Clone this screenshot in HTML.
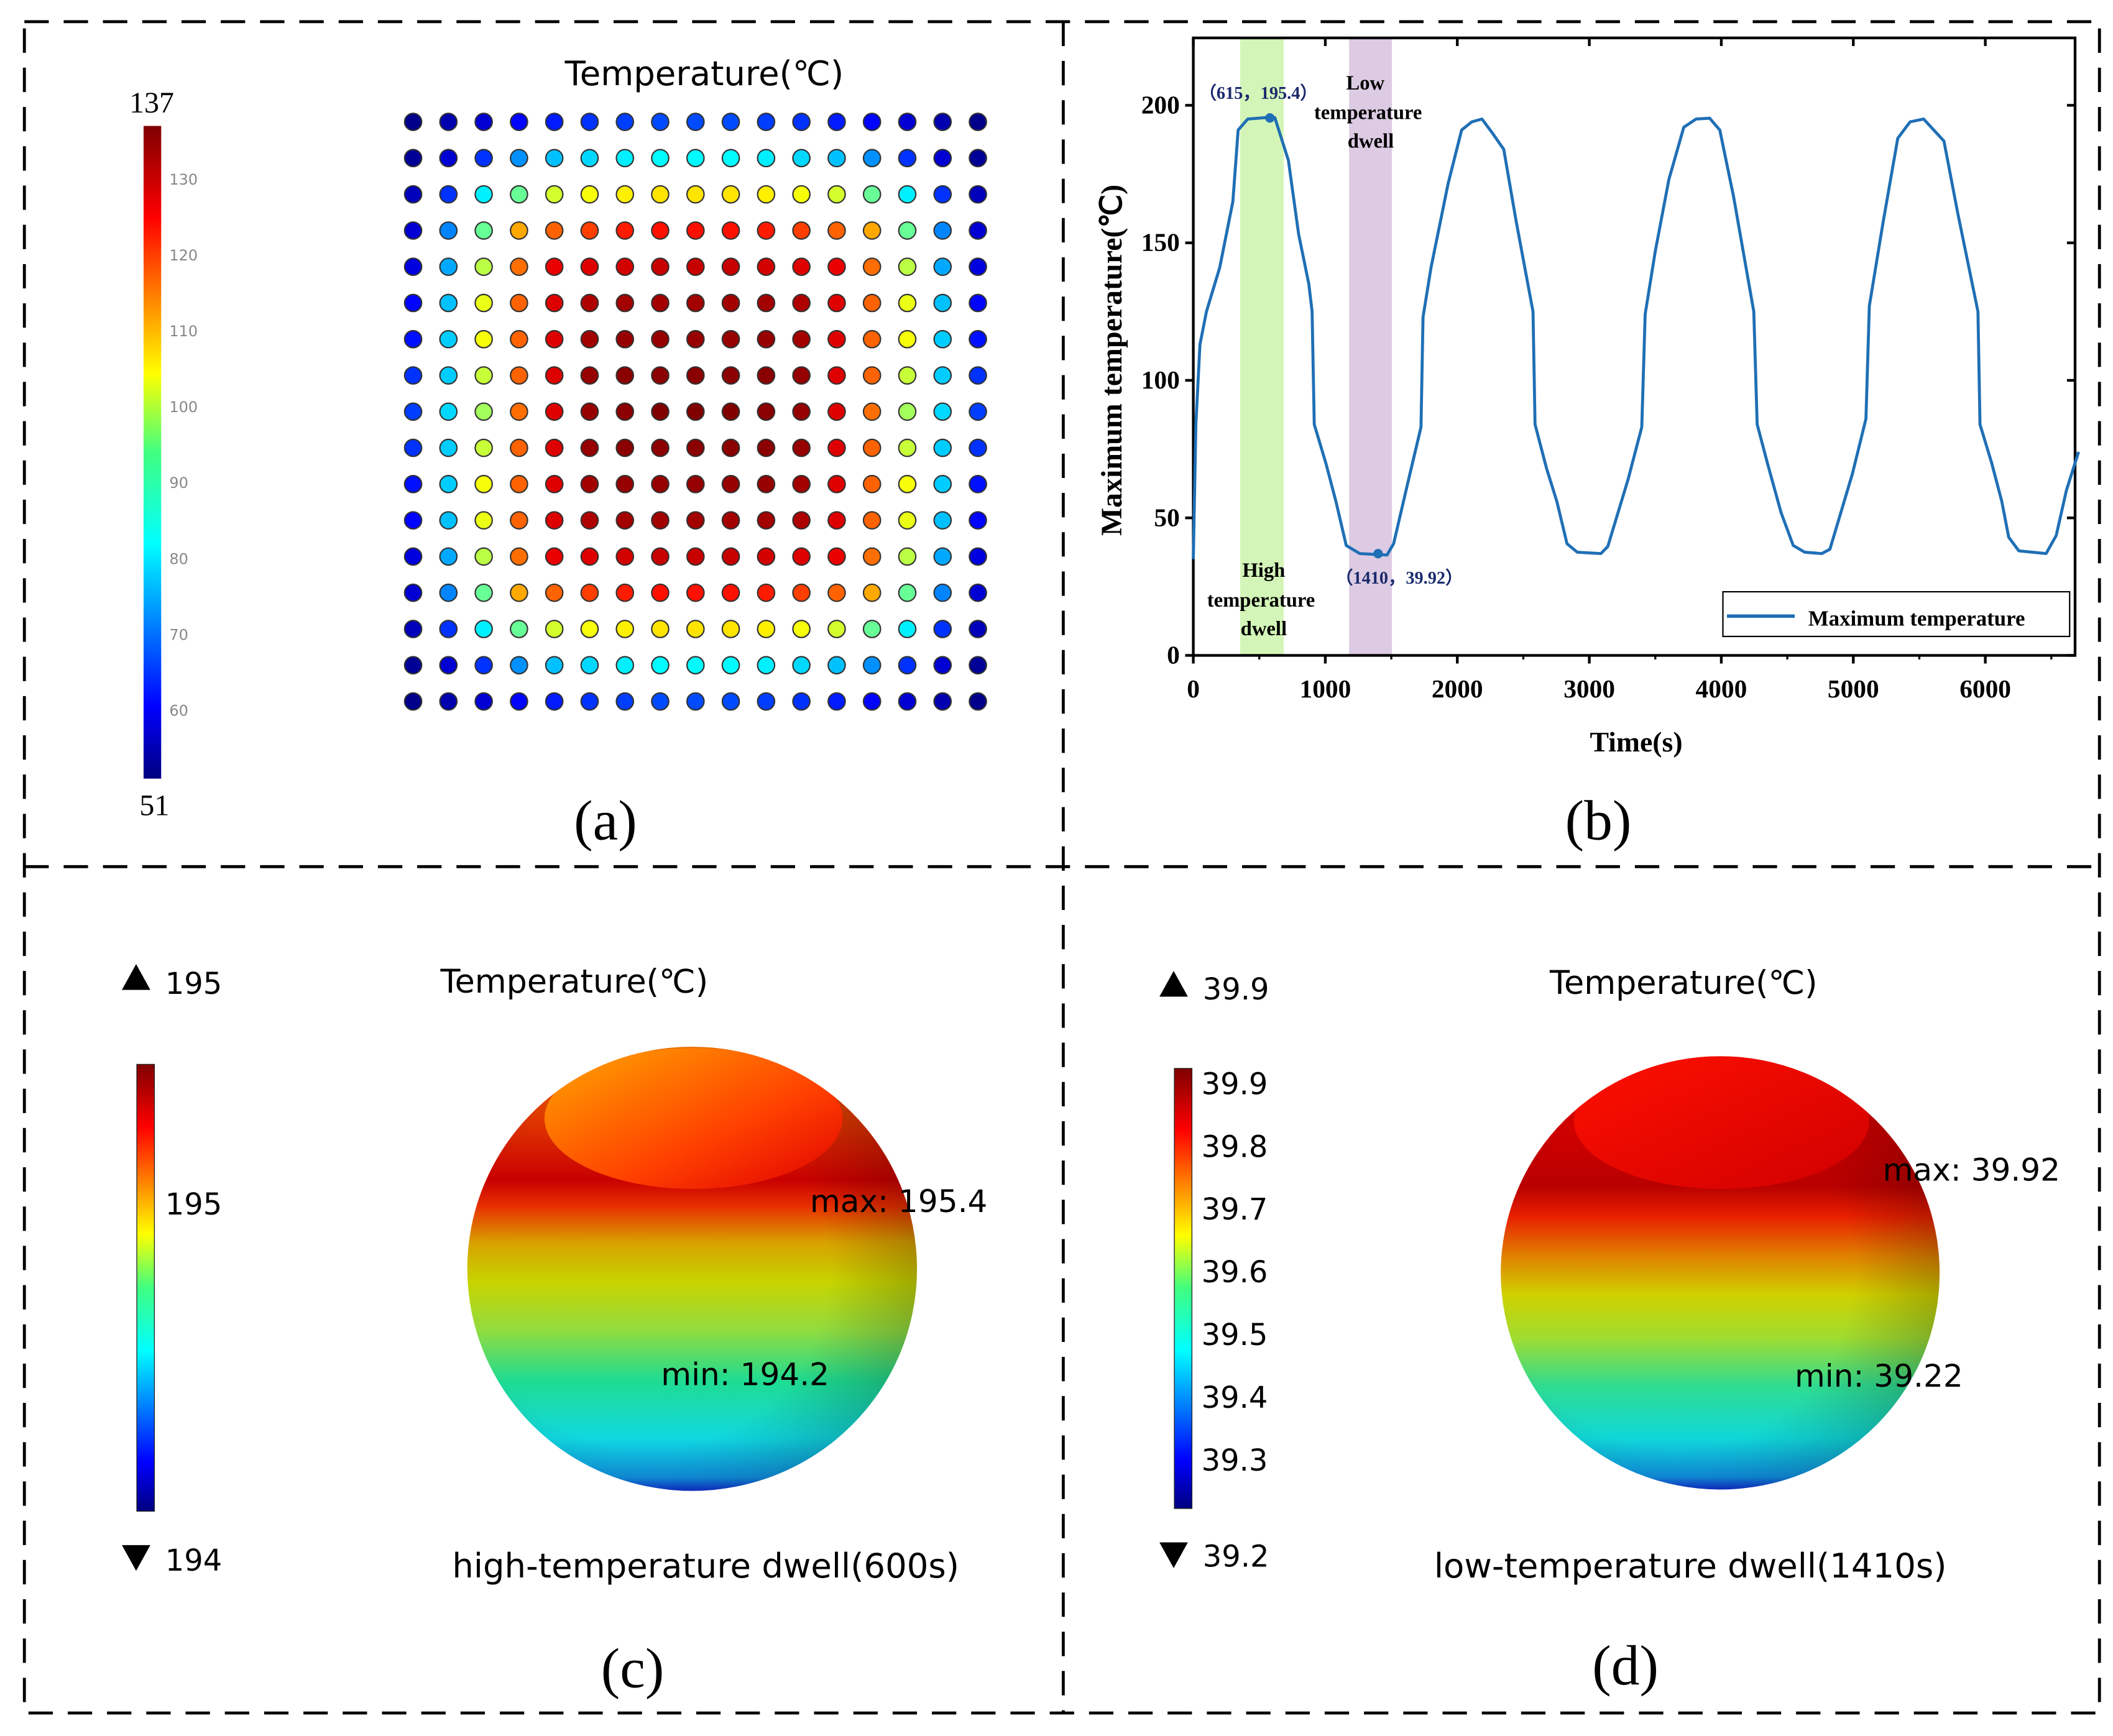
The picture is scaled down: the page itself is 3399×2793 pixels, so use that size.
<!DOCTYPE html>
<html><head><meta charset="utf-8"><style>
html,body{margin:0;padding:0;background:#fff;}
svg{display:block;}
.sans{font-family:"DejaVu Sans","Liberation Sans",sans-serif;}
.serif{font-family:"Liberation Serif",serif;}
</style></head><body>
<svg id="fig" width="3399" height="2793" viewBox="0 0 1560 1282" preserveAspectRatio="none" xmlns="http://www.w3.org/2000/svg">
<defs>
<linearGradient id="jetV" x1="0" y1="1" x2="0" y2="0">
<stop offset="0" stop-color="#00007f"/><stop offset="0.11" stop-color="#0000ff"/><stop offset="0.36" stop-color="#00ffff"/><stop offset="0.5" stop-color="#40ff80"/><stop offset="0.62" stop-color="#ffff00"/><stop offset="0.86" stop-color="#ff0000"/><stop offset="1" stop-color="#7f0000"/>
</linearGradient>
<linearGradient id="sphC" x1="0" y1="0" x2="0" y2="1">
<stop offset="0" stop-color="#ff7a00"/><stop offset="0.3" stop-color="#c80000"/><stop offset="0.36" stop-color="#e83000"/><stop offset="0.44" stop-color="#d8a000"/><stop offset="0.53" stop-color="#c8d400"/><stop offset="0.64" stop-color="#90dc40"/><stop offset="0.75" stop-color="#20dc90"/><stop offset="0.88" stop-color="#10d8e0"/><stop offset="0.97" stop-color="#1090e0"/><stop offset="1" stop-color="#1030d0"/>
</linearGradient>
<linearGradient id="sphD" x1="0" y1="0" x2="0" y2="1">
<stop offset="0" stop-color="#f00000"/><stop offset="0.3" stop-color="#b80000"/><stop offset="0.37" stop-color="#e82000"/><stop offset="0.46" stop-color="#e08000"/><stop offset="0.55" stop-color="#d0d000"/><stop offset="0.65" stop-color="#a0dc30"/><stop offset="0.76" stop-color="#30dc90"/><stop offset="0.88" stop-color="#10d8d8"/><stop offset="0.97" stop-color="#1090e0"/><stop offset="1" stop-color="#1030d0"/>
</linearGradient>
<radialGradient id="shade" cx="0.4" cy="0.5" r="0.62">
<stop offset="0.65" stop-color="#000" stop-opacity="0"/><stop offset="1" stop-color="#000" stop-opacity="0.22"/>
</radialGradient>
<linearGradient id="capC" x1="0" y1="0" x2="1" y2="1">
<stop offset="0" stop-color="#ffa800"/><stop offset="0.6" stop-color="#ff4000"/><stop offset="1" stop-color="#e00000"/>
</linearGradient>
<linearGradient id="capD" x1="0" y1="0" x2="1" y2="1">
<stop offset="0" stop-color="#ff1000"/><stop offset="1" stop-color="#d00000"/>
</linearGradient>
<clipPath id="clipC"><ellipse cx="511" cy="937" rx="166" ry="164"/></clipPath>
<clipPath id="clipD"><ellipse cx="1270" cy="940" rx="162" ry="160"/></clipPath>
</defs>

<g fill="none" stroke="#000" stroke-width="2.2" stroke-dasharray="18 11">
<rect x="18" y="16" width="1532" height="1249"/>
<line x1="785" y1="16" x2="785" y2="1265"/>
<line x1="18" y1="640" x2="1550" y2="640"/>
</g>

<!-- Panel a -->
<g>
<text class="sans" x="520" y="63" font-size="25" text-anchor="middle">Temperature(℃)</text>
<rect x="106" y="93" width="13" height="482" fill="url(#jetV)"/>
<text class="serif" x="112" y="83" font-size="22" text-anchor="middle">137</text>
<text class="serif" x="114" y="602" font-size="22" text-anchor="middle">51</text>
<g id="cbTicksA" fill="#888" font-size="11" class="sans"></g>
<g id="dots"></g>
<text class="serif" x="447" y="620" font-size="42" text-anchor="middle">(a)</text>
</g>

<!-- Panel b -->
<g>
<g id="chart"></g>
<text class="serif" x="1180" y="620" font-size="42" text-anchor="middle">(b)</text>
</g>

<!-- Panel c -->
<g>
<text class="sans" x="424" y="733" font-size="24" text-anchor="middle">Temperature(℃)</text>
<path d="M90,731 L111,731 L100.5,712 Z" fill="#000"/>
<text class="sans" x="122" y="734" font-size="22">195</text>
<rect x="101" y="786" width="13" height="330" fill="url(#jetV)" stroke="#222" stroke-width="0.6"/>
<text class="sans" x="122" y="897" font-size="22">195</text>
<path d="M90,1141 L111,1141 L100.5,1160 Z" fill="#000"/>
<text class="sans" x="122" y="1160" font-size="22">194</text>
<g>
<ellipse cx="511" cy="937" rx="166" ry="164" fill="url(#sphC)"/>
<ellipse cx="511" cy="937" rx="166" ry="164" fill="url(#shade)"/>
<ellipse cx="512" cy="826" rx="110" ry="52" fill="url(#capC)" clip-path="url(#clipC)"/>
</g>
<text class="sans" x="598" y="895" font-size="23">max: 195.4</text>
<text class="sans" x="488" y="1023" font-size="23">min: 194.2</text>
<text class="sans" x="521" y="1165" font-size="25" text-anchor="middle">high-temperature dwell(600s)</text>
<text class="serif" x="467" y="1246" font-size="42" text-anchor="middle">(c)</text>
</g>

<!-- Panel d -->
<g>
<text class="sans" x="1243" y="734" font-size="24" text-anchor="middle">Temperature(℃)</text>
<path d="M856,736 L877,736 L866.5,717 Z" fill="#000"/>
<text class="sans" x="888" y="738" font-size="22">39.9</text>
<rect x="867" y="789" width="13" height="325" fill="url(#jetV)" stroke="#222" stroke-width="0.6"/>
<g id="cbTicksD" class="sans" font-size="22"></g>
<path d="M856,1139 L877,1139 L866.5,1158 Z" fill="#000"/>
<text class="sans" x="888" y="1157" font-size="22">39.2</text>
<g>
<ellipse cx="1270" cy="940" rx="162" ry="160" fill="url(#sphD)"/>
<ellipse cx="1270" cy="940" rx="162" ry="160" fill="url(#shade)"/>
<ellipse cx="1271" cy="828" rx="109" ry="50" fill="url(#capD)" clip-path="url(#clipD)"/>
</g>
<text class="sans" x="1390" y="872" font-size="23">max: 39.92</text>
<text class="sans" x="1325" y="1024" font-size="23">min: 39.22</text>
<text class="sans" x="1248" y="1165" font-size="25" text-anchor="middle">low-temperature dwell(1410s)</text>
<text class="serif" x="1200" y="1244" font-size="42" text-anchor="middle">(d)</text>
</g>
</svg>

<script>
// ---- panel (a) dot grid data (quarter of symmetric field, row 0 = edge, row 8 = centre)
const quarterRows = [
 [52,55,58,62,64,66,67,68,68],
 [53,58,66,74,78,80,82,83,83],
 [56,66,82,92,101,104,106,107,107],
 [58,73,92,112,118,121,124,125,125],
 [59,76,99,117,128,129,130,131,131],
 [62,78,103,118,129,133,134,134,134],
 [63,79,104,118,129,134,135,135,135],
 [66,79,100,118,129,135,136,136,136],
 [67,80,97,117,129,135,136,137,137]
];
const cbTicksA = [60,70,80,90,100,110,120,130];
const cbTicksD = [39.9,39.8,39.7,39.6,39.5,39.4,39.3];

// ---- panel (b) chart data
const times = [0,20,50,100,200,300,340,412,540,618,720,798,875,900,916,1004,1081,1158,1261,1467,1518,1621,1725,1740,1801,1930,2033,2110,2187,2265,2352,2445,2573,2589,2676,2754,2831,2909,3088,3140,3294,3397,3423,3500,3603,3716,3809,3912,3989,4092,4246,4272,4349,4452,4545,4632,4761,4823,4993,5096,5121,5224,5337,5430,5533,5687,5790,5944,5960,6048,6125,6177,6254,6460,6537,6614,6707];
const temps = [35,84,113,125,141,165,191,195,195.5,195.5,180,153,135,125,84,70,56,40,37,36.5,40.6,62,83,123,141,171.5,191,194,195,190,184,158,125,84,68,56,40.6,37.5,37,39.6,64,83,124,147,173,192,195,195.3,191,167,125,84,70,52,40,37.5,37,38.6,66,86,127,157,188,194,195,187,161,125,84,70,56,43,38,37,43.6,60,74];
const xTicks = [0,1000,2000,3000,4000,5000,6000];
const yTicks = [0,50,100,150,200];
const bands = [[355,685],[1180,1505]];
const markerTimes = [580,1400];
const markerTemps = [195.4,37];

const NS = "http://www.w3.org/2000/svg";
function mk(tag, attrs, parent){ const e=document.createElementNS(NS,tag); for(const k in attrs) e.setAttribute(k,attrs[k]); parent.appendChild(e); return e; }
function jet(t){ t=Math.max(0,Math.min(1,t)); const c=v=>Math.round(255*Math.max(0,Math.min(1,v)));
  return `rgb(${c(1.5-Math.abs(4*t-3))},${c(1.5-Math.abs(4*t-2))},${c(1.5-Math.abs(4*t-1))})`; }

const gA=document.getElementById('cbTicksA');
const cbA=v=>575-(v-51)/(137-51)*482;
cbTicksA.forEach(v=>{
  const t=mk('text',{x:125,y:cbA(v)+4},gA); t.textContent=v;
  
  
});
const gD=document.getElementById('cbTicksD');
const cbD=v=>800+(39.9-v)/0.6*278;
cbTicksD.forEach(v=>{
  const t=mk('text',{x:887,y:cbD(v)+8},gD); t.textContent=v.toFixed(1);
  
  
});

const gDots=document.getElementById('dots');
for(let r=0;r<17;r++){ for(let c=0;c<17;c++){
  const qr=r<=8?r:16-r, qc=c<=8?c:16-c;
  const v=quarterRows[qr][qc];
  const d=mk('circle',{cx:305+c*26.06,cy:90+r*26.75,r:6.3,fill:jet((v-51)/(137-51)),stroke:'#333','stroke-width':1},gDots);
  
  
}}

const ch=document.getElementById('chart');
const X0=881,X1=1532,Y0=484,Y1=28, XMAX=6680, YMAX=224.5;
const sx=t=>X0+t/XMAX*(X1-X0);
const sy=v=>Y0-v/YMAX*(Y0-Y1);
const bandColors=['#d4f5b8','#dccbe3'];
bands.forEach((b,i)=>{
  const r=mk('rect',{x:sx(b[0]),y:Y1,width:sx(b[1])-sx(b[0]),height:Y0-Y1,fill:bandColors[i]},ch);
  
  
});
const frame=mk('rect',{x:X0,y:Y1,width:X1-X0,height:Y0-Y1,fill:'none',stroke:'#000','stroke-width':2},ch);


xTicks.forEach(v=>{
  const x=sx(v);
  mk('line',{x1:x,y1:Y0,x2:x,y2:Y0+6,stroke:'#000','stroke-width':2},ch);
  mk('line',{x1:x,y1:Y1,x2:x,y2:Y1+6,stroke:'#000','stroke-width':2},ch);
  mk('line',{x1:x+sx(500)-X0,y1:Y0,x2:x+sx(500)-X0,y2:Y0+3,stroke:'#000','stroke-width':1.5},ch);
  const t=mk('text',{x:x,y:Y0+31,'text-anchor':'middle','font-size':19,'font-weight':'bold','font-family':'Liberation Serif,serif'},ch);
  t.textContent=v;
  
  
});
yTicks.forEach(v=>{
  const y=sy(v);
  mk('line',{x1:X0-6,y1:y,x2:X0,y2:y,stroke:'#000','stroke-width':2},ch);
  mk('line',{x1:X1-6,y1:y,x2:X1,y2:y,stroke:'#000','stroke-width':2},ch);
  const t=mk('text',{x:X0-10,y:y+6,'text-anchor':'end','font-size':19,'font-weight':'bold','font-family':'Liberation Serif,serif'},ch);
  t.textContent=v;
  
  
});
let d='';
times.forEach((t,i)=>{ d+=(i?'L':'M')+sx(t).toFixed(1)+','+sy(temps[i]).toFixed(1); });
const line=mk('path',{d:d,fill:'none',stroke:'#1f6fb5','stroke-width':2.2,'stroke-linejoin':'round'},ch);


markerTimes.forEach((t,i)=>{
  const m=mk('circle',{cx:sx(t),cy:sy(markerTemps[i]),r:3.5,fill:'#1f6fb5'},ch);
  
  
});
function txt(x,y,s,opts,name){ const t=mk('text',Object.assign({x:x,y:y,'font-family':'Liberation Serif,serif','font-weight':'bold'},opts),ch); t.textContent=s;
  
   return t; }
txt(929,73,'（615，195.4）',{'font-size':13,'text-anchor':'middle',fill:'#1a2a6c'},'peak-annotation');
txt(1033,431,'（1410，39.92）',{'font-size':13,'text-anchor':'middle',fill:'#1a2a6c'},'trough-annotation');
txt(1008,66,'Low',{'font-size':15,'text-anchor':'middle'},'low-dwell-label');
txt(1010,88,'temperature',{'font-size':15,'text-anchor':'middle'},'low-dwell-label');
txt(1012,109,'dwell',{'font-size':15,'text-anchor':'middle'},'low-dwell-label');
txt(933,426,'High',{'font-size':15,'text-anchor':'middle'},'high-dwell-label');
txt(931,448,'temperature',{'font-size':15,'text-anchor':'middle'},'high-dwell-label');
txt(933,469,'dwell',{'font-size':15,'text-anchor':'middle'},'high-dwell-label');
const lg=mk('rect',{x:1272,y:437,width:256,height:33,fill:'#fff',stroke:'#000','stroke-width':1},ch);


const ll=mk('line',{x1:1275,y1:455,x2:1325,y2:455,stroke:'#1f6fb5','stroke-width':2.5},ch);


txt(1335,462,'Maximum temperature',{'font-size':16},'legend-entry');
txt(1208,555,'Time(s)',{'font-size':21,'text-anchor':'middle'},'x-axis-title');
txt(0,0,'Maximum temperature(℃)',{'font-size':22,'text-anchor':'middle',transform:'translate(828,266) rotate(-90)'},'y-axis-title');
</script>
</body></html>
